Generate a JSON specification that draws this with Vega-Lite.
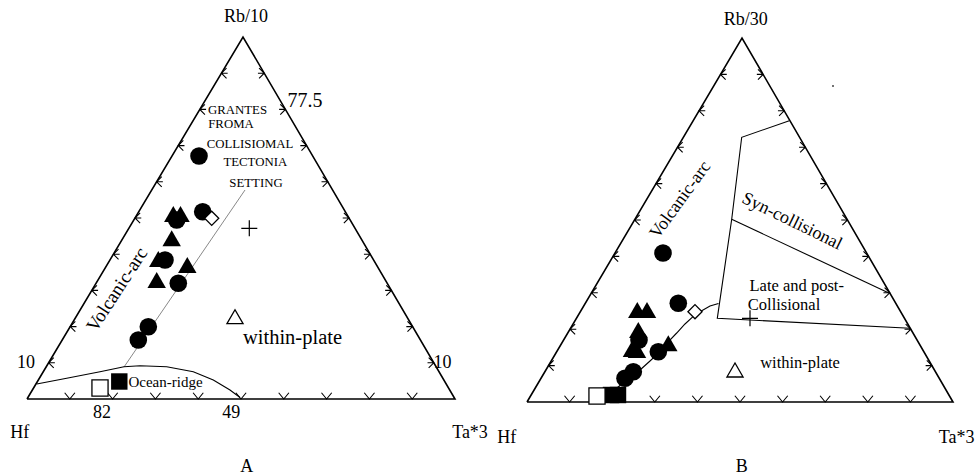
{
  "$schema": "https://vega.github.io/schema/vega-lite/v6.json",
  "autosize": {"type": "fit", "contains": "padding"},
  "width": 979,
  "height": 476,
  "padding": 0,
  "background": "white",
  "config": {"view": {"stroke": null}, "text": {"font": "Liberation Serif", "color": "black"}},
  "datasets": {
    "frame": [
      {"id": "A", "o": 1, "x": 27, "y": 399}, {"id": "A", "o": 2, "x": 243, "y": 37}, {"id": "A", "o": 3, "x": 455, "y": 399}, {"id": "A", "o": 4, "x": 27, "y": 399},
      {"id": "B", "o": 1, "x": 527, "y": 402}, {"id": "B", "o": 2, "x": 742, "y": 38}, {"id": "B", "o": 3, "x": 953, "y": 402}, {"id": "B", "o": 4, "x": 527, "y": 402}
    ],
    "bound": [
      {"id": "L1", "o": 1, "x": 245, "y": 190}, {"id": "L1", "o": 2, "x": 124, "y": 367},
      {"id": "L2", "o": 1, "x": 36.7, "y": 384}, {"id": "L2", "o": 2, "x": 66.7, "y": 378.3}, {"id": "L2", "o": 3, "x": 100, "y": 371.7}, {"id": "L2", "o": 4, "x": 124, "y": 366.7}, {"id": "L2", "o": 5, "x": 140, "y": 365.7}, {"id": "L2", "o": 6, "x": 166.7, "y": 366.7}, {"id": "L2", "o": 7, "x": 193.3, "y": 371.7}, {"id": "L2", "o": 8, "x": 213.3, "y": 380}, {"id": "L2", "o": 9, "x": 230, "y": 390}, {"id": "L2", "o": 10, "x": 240, "y": 397.5},
      {"id": "R1", "o": 1, "x": 789.3, "y": 120.7}, {"id": "R1", "o": 2, "x": 741.7, "y": 137.3}, {"id": "R1", "o": 3, "x": 731.7, "y": 219.3}, {"id": "R1", "o": 4, "x": 717.3, "y": 318.3}, {"id": "R1", "o": 5, "x": 910, "y": 328.3},
      {"id": "R2", "o": 1, "x": 731.7, "y": 219.3}, {"id": "R2", "o": 2, "x": 888.3, "y": 292.7},
      {"id": "R3", "o": 1, "x": 718.5, "y": 303.5}, {"id": "R3", "o": 2, "x": 710, "y": 306}, {"id": "R3", "o": 3, "x": 700, "y": 311.7}, {"id": "R3", "o": 4, "x": 693, "y": 316.7}, {"id": "R3", "o": 5, "x": 685, "y": 324}, {"id": "R3", "o": 6, "x": 676.7, "y": 333}, {"id": "R3", "o": 7, "x": 668, "y": 342}, {"id": "R3", "o": 8, "x": 660, "y": 351.7}, {"id": "R3", "o": 9, "x": 650, "y": 361}, {"id": "R3", "o": 10, "x": 640, "y": 370}, {"id": "R3", "o": 11, "x": 631, "y": 377}, {"id": "R3", "o": 12, "x": 623, "y": 383}, {"id": "R3", "o": 13, "x": 617, "y": 388}, {"id": "R3", "o": 14, "x": 613, "y": 393}, {"id": "R3", "o": 15, "x": 611, "y": 397}
    ],
    "ticks": [
      {"s": "L", "x": 221.4, "y": 73.2}, {"s": "L", "x": 199.8, "y": 109.4}, {"s": "L", "x": 178.2, "y": 145.6}, {"s": "L", "x": 156.6, "y": 181.8}, {"s": "L", "x": 135, "y": 218}, {"s": "L", "x": 113.4, "y": 254.2}, {"s": "L", "x": 91.8, "y": 290.4}, {"s": "L", "x": 70.2, "y": 326.6}, {"s": "L", "x": 48.6, "y": 362.8},
      {"s": "R", "x": 264.2, "y": 73.2}, {"s": "R", "x": 285.4, "y": 109.4}, {"s": "R", "x": 306.6, "y": 145.6}, {"s": "R", "x": 327.8, "y": 181.8}, {"s": "R", "x": 349, "y": 218}, {"s": "R", "x": 370.2, "y": 254.2}, {"s": "R", "x": 391.4, "y": 290.4}, {"s": "R", "x": 412.6, "y": 326.6}, {"s": "R", "x": 433.8, "y": 362.8},
      {"s": "B", "x": 69.8, "y": 399}, {"s": "B", "x": 112.6, "y": 399}, {"s": "B", "x": 155.4, "y": 399}, {"s": "B", "x": 198.2, "y": 399}, {"s": "B", "x": 241, "y": 399}, {"s": "B", "x": 283.8, "y": 399}, {"s": "B", "x": 326.6, "y": 399}, {"s": "B", "x": 369.4, "y": 399}, {"s": "B", "x": 412.2, "y": 399},
      {"s": "L", "x": 720.5, "y": 74.4}, {"s": "L", "x": 699, "y": 110.8}, {"s": "L", "x": 677.5, "y": 147.2}, {"s": "L", "x": 656, "y": 183.6}, {"s": "L", "x": 634.5, "y": 220}, {"s": "L", "x": 613, "y": 256.4}, {"s": "L", "x": 591.5, "y": 292.8}, {"s": "L", "x": 570, "y": 329.2}, {"s": "L", "x": 548.5, "y": 365.6},
      {"s": "R", "x": 763.1, "y": 74.4}, {"s": "R", "x": 784.2, "y": 110.8}, {"s": "R", "x": 805.3, "y": 147.2}, {"s": "R", "x": 826.4, "y": 183.6}, {"s": "R", "x": 847.5, "y": 220}, {"s": "R", "x": 868.6, "y": 256.4}, {"s": "R", "x": 889.7, "y": 292.8}, {"s": "R", "x": 910.8, "y": 329.2}, {"s": "R", "x": 931.9, "y": 365.6},
      {"s": "B", "x": 569.6, "y": 402}, {"s": "B", "x": 612.2, "y": 402}, {"s": "B", "x": 654.8, "y": 402}, {"s": "B", "x": 697.4, "y": 402}, {"s": "B", "x": 740, "y": 402}, {"s": "B", "x": 782.6, "y": 402}, {"s": "B", "x": 825.2, "y": 402}, {"s": "B", "x": 867.8, "y": 402}, {"s": "B", "x": 910.4, "y": 402}
    ],
    "pts": [
      {"t": "fc", "x": 199, "y": 156},
      {"t": "fc", "x": 202.7, "y": 211.7},
      {"t": "od", "x": 211.7, "y": 218.3},
      {"t": "ft", "x": 173.3, "y": 214}, {"t": "ft", "x": 180.5, "y": 214}, {"t": "fc", "x": 176.7, "y": 220},
      {"t": "ft", "x": 171.7, "y": 238.3},
      {"t": "ft", "x": 158.3, "y": 259}, {"t": "fc", "x": 165, "y": 260},
      {"t": "ft", "x": 187.3, "y": 265},
      {"t": "ft", "x": 156.7, "y": 280},
      {"t": "fc", "x": 178.3, "y": 283.3},
      {"t": "fc", "x": 148.3, "y": 326.7}, {"t": "fc", "x": 138.3, "y": 340},
      {"t": "ot", "x": 235, "y": 316.7},
      {"t": "cr", "x": 249.3, "y": 228.3},
      {"t": "os", "x": 100, "y": 388},
      {"t": "fs", "x": 119.3, "y": 381.5},
      {"t": "fc", "x": 663, "y": 253},
      {"t": "fc", "x": 678.3, "y": 303.3}, {"t": "od", "x": 695, "y": 311.7},
      {"t": "ft", "x": 637.3, "y": 310}, {"t": "ft", "x": 647, "y": 310},
      {"t": "ft", "x": 638.3, "y": 330}, {"t": "fc", "x": 639, "y": 340},
      {"t": "ft", "x": 632, "y": 349}, {"t": "ft", "x": 637, "y": 350},
      {"t": "ft", "x": 668.3, "y": 343.3}, {"t": "fc", "x": 658.3, "y": 351.7},
      {"t": "fc", "x": 633.3, "y": 371.7}, {"t": "fc", "x": 625, "y": 378.3},
      {"t": "os", "x": 597, "y": 396},
      {"t": "fs", "x": 611, "y": 395}, {"t": "fs", "x": 618, "y": 395},
      {"t": "ot", "x": 735, "y": 370},
      {"t": "cr", "x": 750, "y": 318.3},
      {"t": "dot", "x": 833, "y": 86}
    ],
    "labels": [
      {"g": "title", "text": "Rb/10", "x": 246, "y": 17},
      {"g": "title", "text": "Rb/30", "x": 745.8, "y": 20},
      {"g": "title", "text": "Hf", "x": 19.7, "y": 433},
      {"g": "title", "text": "Ta*3", "x": 470, "y": 433},
      {"g": "title", "text": "A", "x": 246.7, "y": 467},
      {"g": "title", "text": "Hf", "x": 506.7, "y": 438},
      {"g": "title", "text": "Ta*3", "x": 956.7, "y": 438},
      {"g": "title", "text": "B", "x": 741.7, "y": 467},
      {"g": "title", "text": "10", "x": 26, "y": 363},
      {"g": "title", "text": "10", "x": 442.5, "y": 363},
      {"g": "title", "text": "82", "x": 102, "y": 413},
      {"g": "title", "text": "49", "x": 231.3, "y": 413},
      {"g": "big", "text": "77.5", "x": 305, "y": 101},
      {"g": "small", "text": "GRANTES", "x": 237.5, "y": 110},
      {"g": "small", "text": "FROMA", "x": 231, "y": 124},
      {"g": "small", "text": "COLLISIOMAL", "x": 250, "y": 144},
      {"g": "small", "text": "TECTONIA", "x": 255.3, "y": 162},
      {"g": "small", "text": "SETTING", "x": 256, "y": 183},
      {"g": "wpl", "text": "within-plate", "x": 292.5, "y": 338},
      {"g": "mid", "text": "within-plate", "x": 800, "y": 363},
      {"g": "mid", "text": "Late and post-", "x": 796.7, "y": 286},
      {"g": "mid", "text": "Collisional", "x": 784, "y": 305},
      {"g": "ocean", "text": "Ocean-ridge", "x": 165.5, "y": 381.7},
      {"g": "volcL", "text": "Volcanic-arc", "x": 117, "y": 289.5},
      {"g": "volcR", "text": "Volcanic-arc", "x": 680.5, "y": 200},
      {"g": "syn", "text": "Syn-collisional", "x": 792, "y": 221.5}
    ]
  },
  "encoding": {
    "x": {"field": "x", "type": "quantitative", "scale": {"domain": [0, 979], "nice": false, "zero": false}, "axis": null},
    "y": {"field": "y", "type": "quantitative", "scale": {"domain": [0, 476], "nice": false, "zero": false, "reverse": true}, "axis": null}
  },
  "layer": [
    {"data": {"name": "bound"}, "transform": [{"filter": "datum.id == 'L1'"}], "mark": {"type": "line", "color": "#555555", "strokeWidth": 0.7},
     "encoding": {"detail": {"field": "id"}, "order": {"field": "o", "type": "quantitative"}}},
    {"data": {"name": "bound"}, "transform": [{"filter": "datum.id != 'L1'"}], "mark": {"type": "line", "color": "black", "strokeWidth": 1.1},
     "encoding": {"detail": {"field": "id"}, "order": {"field": "o", "type": "quantitative"}}},
    {"data": {"name": "frame"}, "mark": {"type": "line", "color": "black", "strokeWidth": 1.6, "strokeJoin": "miter"},
     "encoding": {"detail": {"field": "id"}, "order": {"field": "o", "type": "quantitative"}}},
    {"data": {"name": "ticks"}, "transform": [{"filter": "datum.s == 'L'"}], "mark": {"type": "point", "shape": "M0.9,-0.9L0,0L0.9,0.9M0,0L1.1,0", "size": 130, "filled": false, "stroke": "black", "strokeWidth": 1.1, "opacity": 1}},
    {"data": {"name": "ticks"}, "transform": [{"filter": "datum.s == 'R'"}], "mark": {"type": "point", "shape": "M-0.9,-0.9L0,0L-0.9,0.9M0,0L-1.1,0", "size": 130, "filled": false, "stroke": "black", "strokeWidth": 1.1, "opacity": 1}},
    {"data": {"name": "ticks"}, "transform": [{"filter": "datum.s == 'B'"}], "mark": {"type": "point", "shape": "M-0.9,-1.1L0,0L0.9,-1.1", "size": 130, "filled": false, "stroke": "black", "strokeWidth": 1.1, "opacity": 1}},
    {"data": {"name": "labels"}, "transform": [{"filter": "datum.g == 'title'"}], "mark": {"type": "text", "fontSize": 18, "align": "center", "baseline": "middle"}, "encoding": {"text": {"field": "text"}}},
    {"data": {"name": "labels"}, "transform": [{"filter": "datum.g == 'big'"}], "mark": {"type": "text", "fontSize": 20, "align": "center", "baseline": "middle"}, "encoding": {"text": {"field": "text"}}},
    {"data": {"name": "labels"}, "transform": [{"filter": "datum.g == 'small'"}], "mark": {"type": "text", "fontSize": 12.8, "align": "center", "baseline": "middle"}, "encoding": {"text": {"field": "text"}}},
    {"data": {"name": "labels"}, "transform": [{"filter": "datum.g == 'wpl'"}], "mark": {"type": "text", "fontSize": 20.5, "align": "center", "baseline": "middle"}, "encoding": {"text": {"field": "text"}}},
    {"data": {"name": "labels"}, "transform": [{"filter": "datum.g == 'mid'"}], "mark": {"type": "text", "fontSize": 16.5, "align": "center", "baseline": "middle"}, "encoding": {"text": {"field": "text"}}},
    {"data": {"name": "labels"}, "transform": [{"filter": "datum.g == 'ocean'"}], "mark": {"type": "text", "fontSize": 15, "align": "center", "baseline": "middle"}, "encoding": {"text": {"field": "text"}}},
    {"data": {"name": "labels"}, "transform": [{"filter": "datum.g == 'volcL'"}], "mark": {"type": "text", "fontSize": 19, "align": "center", "baseline": "middle", "angle": 303}, "encoding": {"text": {"field": "text"}}},
    {"data": {"name": "labels"}, "transform": [{"filter": "datum.g == 'volcR'"}], "mark": {"type": "text", "fontSize": 18, "align": "center", "baseline": "middle", "angle": 306}, "encoding": {"text": {"field": "text"}}},
    {"data": {"name": "labels"}, "transform": [{"filter": "datum.g == 'syn'"}], "mark": {"type": "text", "fontSize": 18, "align": "center", "baseline": "middle", "angle": 26}, "encoding": {"text": {"field": "text"}}},
    {"data": {"name": "pts"}, "transform": [{"filter": "datum.t == 'fc'"}], "mark": {"type": "point", "shape": "circle", "size": 310, "filled": true, "color": "black", "opacity": 1}},
    {"data": {"name": "pts"}, "transform": [{"filter": "datum.t == 'ft'"}], "mark": {"type": "point", "shape": "triangle-up", "size": 340, "filled": true, "color": "black", "opacity": 1}},
    {"data": {"name": "pts"}, "transform": [{"filter": "datum.t == 'fs'"}], "mark": {"type": "point", "shape": "square", "size": 270, "filled": true, "color": "black", "opacity": 1}},
    {"data": {"name": "pts"}, "transform": [{"filter": "datum.t == 'os'"}], "mark": {"type": "point", "shape": "square", "size": 260, "fill": "white", "stroke": "black", "strokeWidth": 1.3, "opacity": 1}},
    {"data": {"name": "pts"}, "transform": [{"filter": "datum.t == 'od'"}], "mark": {"type": "point", "shape": "diamond", "size": 200, "fill": "white", "stroke": "black", "strokeWidth": 1.3, "opacity": 1}},
    {"data": {"name": "pts"}, "transform": [{"filter": "datum.t == 'ot'"}], "mark": {"type": "point", "shape": "triangle-up", "size": 260, "fill": "white", "stroke": "black", "strokeWidth": 1.3, "opacity": 1}},
    {"data": {"name": "pts"}, "transform": [{"filter": "datum.t == 'cr'"}], "mark": {"type": "point", "shape": "M-1,0L1,0M0,-1L0,1", "size": 256, "filled": false, "stroke": "black", "strokeWidth": 1.2, "opacity": 1}},
    {"data": {"name": "pts"}, "transform": [{"filter": "datum.t == 'dot'"}], "mark": {"type": "point", "shape": "circle", "size": 4, "filled": true, "color": "#444444", "opacity": 1}}
  ]
}
